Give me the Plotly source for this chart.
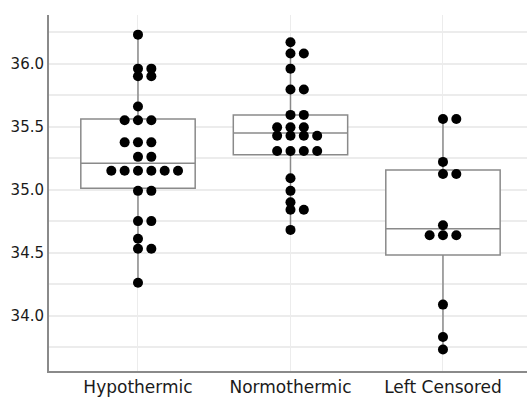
import plotly.graph_objects as go

categories = ["Hypothermic", "Normothermic", "Left Censored"]

# dot rows (value, number of dots in that row)
hypo_values = [36.23, 35.96, 35.90, 35.66, 35.55, 35.375, 35.26, 35.15, 34.99, 34.75, 34.61, 34.53, 34.26]
hypo_counts = [1, 2, 2, 1, 3, 3, 2, 6, 2, 2, 1, 2, 1]

normo_values = [36.17, 36.08, 35.96, 35.795, 35.593, 35.494, 35.428, 35.307, 35.09, 34.99, 34.90, 34.84, 34.68]
normo_counts = [1, 2, 1, 2, 2, 3, 4, 4, 1, 1, 1, 2, 1]

left_values = [35.56, 35.22, 35.124, 34.717, 34.638, 34.087, 33.83, 33.73]
left_counts = [2, 1, 2, 1, 3, 1, 1, 1]

# box statistics
q1 = [35.01, 35.276, 34.48]
median = [35.21, 35.449, 34.69]
q3 = [35.56, 35.593, 35.155]
lowerfence = [34.26, 34.68, 33.73]
upperfence = [36.23, 36.17, 35.56]

y_ticks = [34.0, 34.5, 35.0, 35.5, 36.0]

groups = [(hypo_values, hypo_counts), (normo_values, normo_counts), (left_values, left_counts)]
order = [0, 1, -1, 2, -2, 3, -3]
step = 0.0875

fig = go.Figure()
fig.add_trace(go.Box(
    x=[0, 1, 2], q1=q1, median=median, q3=q3,
    lowerfence=lowerfence, upperfence=upperfence,
    width=0.75, whiskerwidth=0, fillcolor="white",
    line=dict(color="#8a8a8a", width=1.5),
    boxpoints=False, hoverinfo="skip", showlegend=False,
))

xs, ys = [], []
for gi, (vals, cnts) in enumerate(groups):
    for v, c in zip(vals, cnts):
        for k in range(c):
            xs.append(gi + order[k] * step)
            ys.append(v)

fig.add_trace(go.Scatter(
    x=xs, y=ys, mode="markers",
    marker=dict(color="black", size=10, line=dict(width=0)),
    showlegend=False,
))

fig.update_layout(
    width=527, height=397,
    margin=dict(l=49, r=0, t=15, b=24),
    paper_bgcolor="white", plot_bgcolor="white",
    font=dict(family="DejaVu Sans", size=16, color="#1a1a1a"),
)
fig.update_xaxes(
    range=[-0.5836, 2.551], tickvals=[0, 1, 2], ticktext=categories,
    showgrid=True, gridcolor="#ececec", gridwidth=1,
    showline=True, linecolor="#8a8a8a", linewidth=2,
    zeroline=False, ticks="", tickfont=dict(size=17),
)
fig.update_yaxes(
    range=[33.56, 36.386], tickvals=y_ticks, ticktext=[f"{t:.1f}" for t in y_ticks],
    showgrid=True, gridcolor="#ececec", gridwidth=1.5,
    minor=dict(tick0=0, dtick=0.25, showgrid=True, gridcolor="#ececec", gridwidth=1.5),
    showline=True, linecolor="#8a8a8a", linewidth=2,
    zeroline=False, ticks="", tickfont=dict(size=15),
)

fig.write_html("out.html")
